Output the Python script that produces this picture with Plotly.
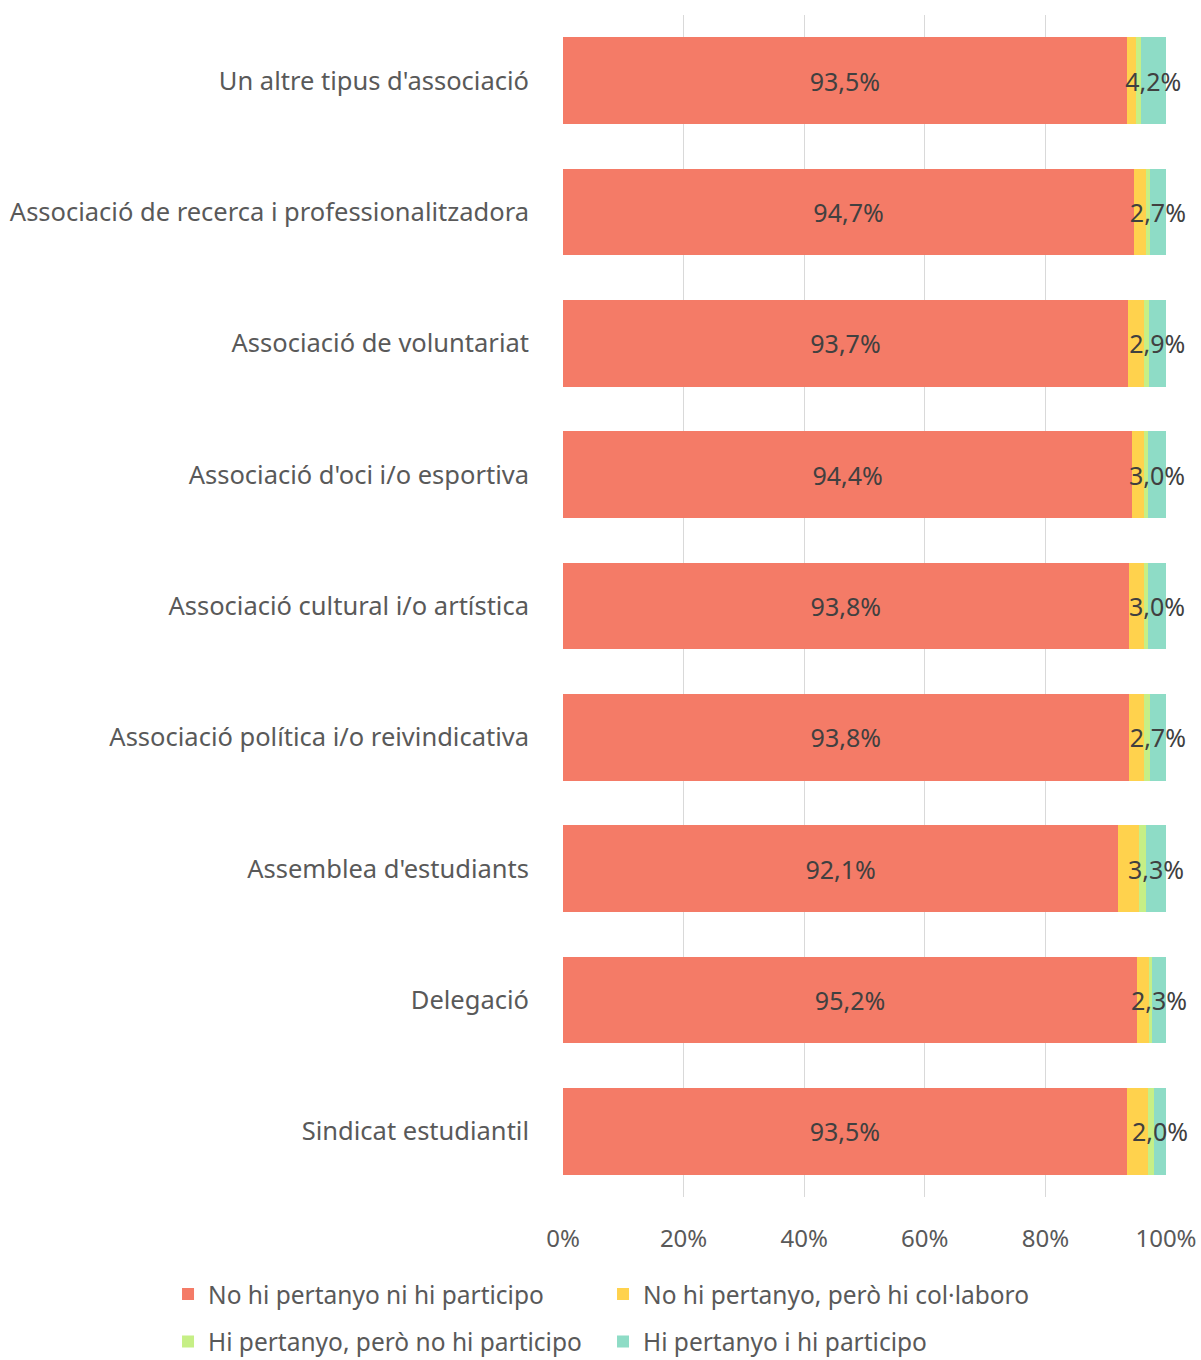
import plotly.graph_objects as go

categories = [
    "Un altre tipus d'associació",
    "Associació de recerca i professionalitzadora",
    "Associació de voluntariat",
    "Associació d'oci i/o esportiva",
    "Associació cultural i/o artística",
    "Associació política i/o reivindicativa",
    "Assemblea d'estudiants",
    "Delegació",
    "Sindicat estudiantil",
]

no_pertanyo_ni_participo = [93.5, 94.7, 93.7, 94.4, 93.8, 93.8, 92.1, 95.2, 93.5]
no_pertanyo_collaboro = [1.6, 1.9, 2.7, 1.9, 2.5, 2.6, 3.4, 2.0, 3.5]
pertanyo_no_participo = [0.7, 0.7, 0.7, 0.7, 0.7, 0.9, 1.2, 0.5, 1.0]
pertanyo_participo = [4.2, 2.7, 2.9, 3.0, 3.0, 2.7, 3.3, 2.3, 2.0]

series_names = [
    "No hi pertanyo ni hi participo",
    "No hi pertanyo, però hi col·laboro",
    "Hi pertanyo, però no hi participo",
    "Hi pertanyo i hi participo",
]
colors = ["#F47B67", "#FFD24D", "#C6EF86", "#8EDCC6"]

FONT = "Noto Sans"
TXT = "#595959"


def pct(v):
    return f"{v:.1f}%".replace(".", ",")


series = [no_pertanyo_ni_participo, no_pertanyo_collaboro, pertanyo_no_participo, pertanyo_participo]
show_labels = [True, False, False, True]
# one legend per entry -> 2x2 grid like the original
legend_ids = ["legend", "legend2", "legend3", "legend4"]
legend_pos = [(0.1399, 0.0485), (0.5021, 0.0485), (0.1399, 0.0135), (0.5021, 0.0135)]

fig = go.Figure()
for name, vals, col, lab, lg in zip(series_names, series, colors, show_labels, legend_ids):
    fig.add_trace(go.Bar(
        y=categories,
        x=[v / 100 for v in vals],
        name=name,
        orientation="h",
        marker=dict(color=col, line=dict(width=0)),
        text=[pct(v) for v in vals] if lab else None,
        textposition="inside" if lab else "none",
        insidetextanchor="middle",
        textangle=0,
        constraintext="none",
        textfont=dict(family=FONT, size=25, color="#404040"),
        cliponaxis=False,
        hoverinfo="skip",
        showlegend=True,
        legend=lg,
    ))

legends = {}
for lg, (lx, ly) in zip(legend_ids, legend_pos):
    legends[lg] = dict(
        visible=True,
        orientation="h",
        xref="container",
        yref="container",
        x=lx,
        y=ly,
        xanchor="left",
        yanchor="middle",
        font=dict(family=FONT, size=24.5, color=TXT),
        itemwidth=30,
        bgcolor="rgba(0,0,0,0)",
    )

fig.update_layout(
    width=1201,
    height=1360,
    showlegend=True,
    barmode="stack",
    bargap=0.34,
    plot_bgcolor="white",
    paper_bgcolor="white",
    margin=dict(l=563, r=35, t=15, b=163),
    font=dict(family=FONT, size=24, color=TXT),
    xaxis=dict(
        range=[0, 1],
        tickvals=[0, 0.2, 0.4, 0.6, 0.8, 1.0],
        ticktext=["0%", "20%", "40%", "60%", "80%", "100%"],
        showgrid=True,
        gridcolor="#D9D9D9",
        gridwidth=1,
        zeroline=False,
        showline=False,
        ticks="",
        automargin=False,
        tickfont=dict(family=FONT, size=24, color=TXT),
        ticklabelstandoff=25,
    ),
    yaxis=dict(
        autorange="reversed",
        showgrid=False,
        ticks="",
        automargin=False,
        ticklabelstandoff=33,
        tickfont=dict(family=FONT, size=25.5, color=TXT),
    ),
    **legends,
)

# drop the default 8px body margin so the figure fills the window exactly
fig.write_html(
    "out.html",
    config={"displayModeBar": False},
    post_script="document.body.style.margin='0';",
)
